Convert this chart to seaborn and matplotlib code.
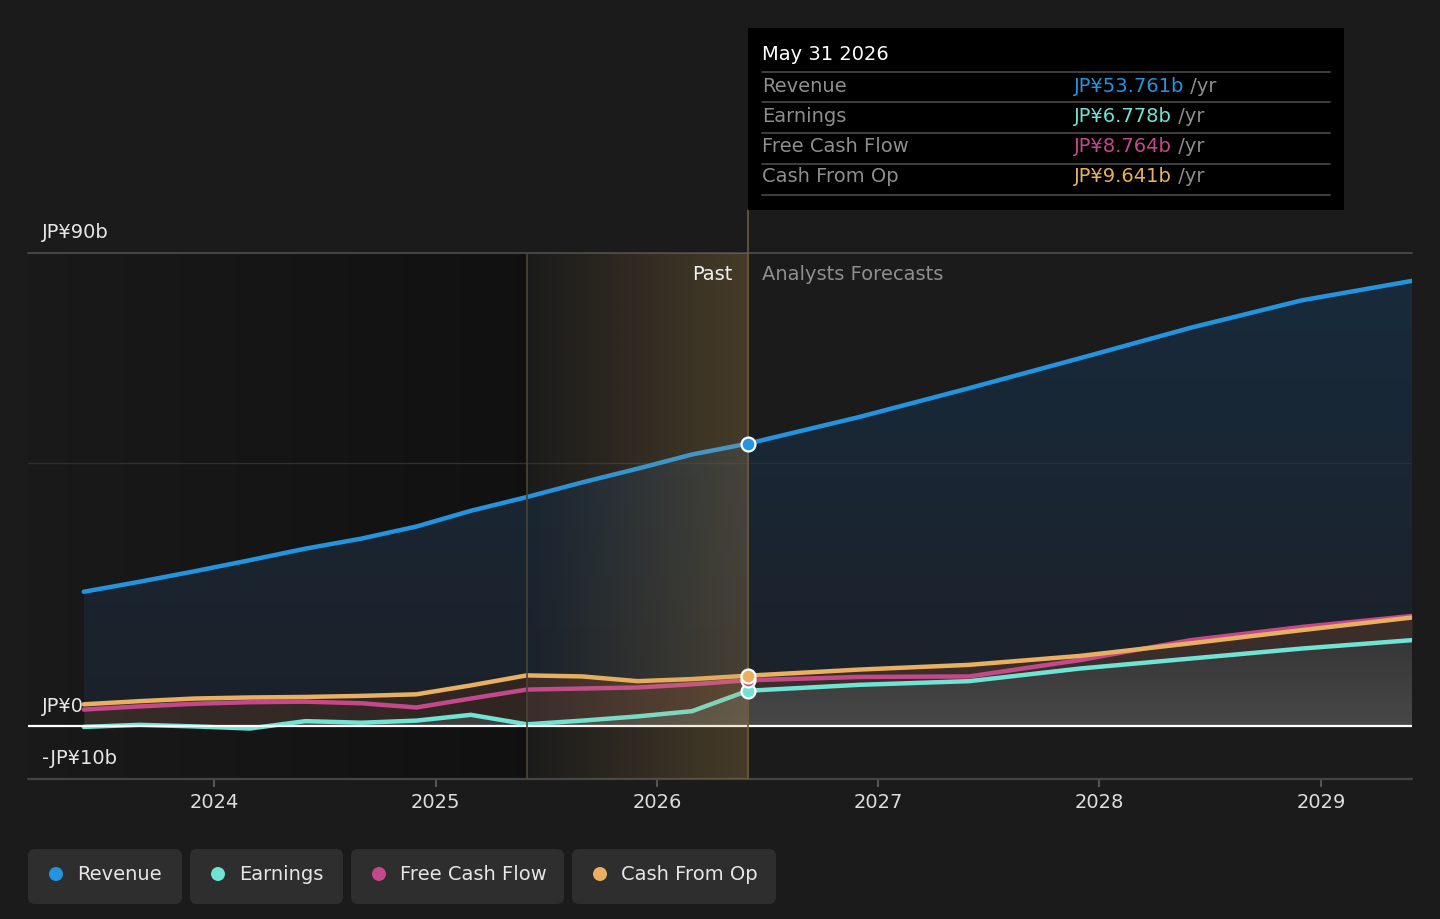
import numpy as np
import pandas as pd
import matplotlib
matplotlib.use("Agg")
import matplotlib.pyplot as plt
import matplotlib.dates as mdates
import matplotlib.colors as mcolors
from matplotlib.patches import FancyBboxPatch, Rectangle, Circle
from matplotlib.text import Annotation
from matplotlib.transforms import IdentityTransform
import seaborn as sns

# data (JP¥ billions), quarterly history then analyst forecasts
dates = ["2023-05-31", "2023-08-31", "2023-11-30", "2024-02-29", "2024-05-31",
         "2024-08-31", "2024-11-30", "2025-02-28", "2025-05-31", "2025-08-31",
         "2025-11-30", "2026-02-28", "2026-05-31", "2026-11-30", "2027-05-31",
         "2027-11-30", "2028-05-31", "2028-11-30", "2029-05-31"]
revenue = [25.6, 27.5, 29.5, 31.6, 33.8, 35.7, 38.0, 41.0, 43.6, 46.4,
           49.0, 51.7, 53.761, 58.8, 64.3, 70.0, 75.8, 81.0, 84.7]
earnings = [-0.1, 0.3, 0.0, -0.4, 1.0, 0.7, 1.1, 2.2, 0.4, 1.1,
            1.9, 2.9, 6.778, 7.9, 8.6, 11.0, 12.9, 14.8, 16.4]
free_cash_flow = [3.2, 3.8, 4.3, 4.6, 4.7, 4.4, 3.6, 5.3, 7.0, 7.2,
                  7.4, 8.0, 8.764, 9.4, 9.5, 12.6, 16.4, 18.9, 21.0]
cash_from_op = [4.2, 4.8, 5.3, 5.5, 5.6, 5.8, 6.1, 7.8, 9.7, 9.5,
                8.6, 9.0, 9.641, 10.8, 11.7, 13.4, 15.8, 18.3, 20.7]

series_names = ["Revenue", "Earnings", "Free Cash Flow", "Cash From Op"]
colors = {"Revenue": "#2394df", "Earnings": "#6fe3d4",
          "Free Cash Flow": "#c4498a", "Cash From Op": "#e8b060"}
tooltip_values = ["JP¥53.761b", "JP¥6.778b", "JP¥8.764b", "JP¥9.641b"]

past_start = pd.Timestamp("2025-05-31")
now = pd.Timestamp("2026-05-31")
x_left = pd.Timestamp("2023-02-28")
x_right = pd.Timestamp("2029-05-31")

BG = "#1b1b1b"
W, H = 1440, 919

sns.set_theme(style="dark")
plt.rcParams["font.family"] = ["DejaVu Sans"]

df = pd.DataFrame({"date": pd.to_datetime(dates), "Revenue": revenue, "Earnings": earnings,
                   "Free Cash Flow": free_cash_flow, "Cash From Op": cash_from_op})
long_df = df.melt(id_vars="date", var_name="series", value_name="value")

fig = plt.figure(figsize=(W / 100, H / 100), dpi=100, facecolor=BG)
ax = fig.add_axes([28 / W, 1 - 779 / H, 1384 / W, 526 / H])
ax.set_facecolor(BG)
for s in ax.spines.values():
    s.set_visible(False)

xnum = mdates.date2num(df["date"])
xl, xr = mdates.date2num(x_left), mdates.date2num(x_right)
xp, xn = mdates.date2num(past_start), mdates.date2num(now)


def gradient_band(lo, hi, c_top, c_bot, a_top, a_bot, zorder):
    poly = ax.fill_between(xnum, lo, hi, facecolor="none", edgecolor="none")
    grad = np.zeros((256, 1, 4))
    grad[:, 0, :3] = np.linspace(mcolors.to_rgb(c_top), mcolors.to_rgb(c_bot), 256)
    grad[:, 0, 3] = np.linspace(a_top, a_bot, 256)
    ymin = min(np.min(lo), 0)
    im = ax.imshow(grad, aspect="auto", origin="upper", zorder=zorder,
                   extent=[xnum.min(), xnum.max(), ymin, np.max(hi)], interpolation="bilinear")
    im.set_clip_path(poly.get_paths()[0], transform=ax.transData)


# dark "past" panel
panel = np.zeros((1, 256, 4))
panel[0, :, 3] = np.linspace(0.05, 0.38, 256)
ax.imshow(panel, aspect="auto", extent=[xl, xp, -10, 90], zorder=0.5, interpolation="bilinear")

# area fills
rev = np.array(revenue)
ear = np.array(earnings)
mid_top = np.maximum(np.array(free_cash_flow), np.array(cash_from_op))
gradient_band(mid_top, rev, "#182a3b", "#1b2129", 1.0, 1.0, 1)
ax.fill_between(xnum, ear, mid_top, color="#c08070", alpha=0.19, lw=0, zorder=1)
gradient_band(np.zeros_like(ear), ear, "#ffffff", "#ffffff", 0.12, 0.2, 1)

# grid lines
ax.axhline(90, color="#4a4a4a", lw=1.3, zorder=2, clip_on=False)
ax.axhline(50, color="#2f2f2f", lw=1.0, zorder=1.5)
ax.axhline(0, color="#ffffff", lw=1.6, zorder=3.5)
ax.axhline(-10, color="#444444", lw=1.6, zorder=2, clip_on=False)

# lines
sns.lineplot(data=long_df, x="date", y="value", hue="series", hue_order=series_names,
             palette=colors, linewidth=3.2, legend=False, ax=ax, zorder=3)

# highlight for last year of history, drawn over the lines
hl = np.zeros((1, 256, 4))
hl[0, :, :3] = (0.80, 0.62, 0.32)
hl[0, :, 3] = np.linspace(0.0, 0.25, 256)
ax.imshow(hl, aspect="auto", extent=[xp, xn, -10, 90], zorder=4, interpolation="bilinear")

ax.plot([xp, xp], [-10, 90], color="#4a4436", lw=1.2, zorder=4.2)
ax.plot([xn, xn], [-10, 98.2], color="#6a5a3a", lw=1.2, zorder=4.2, clip_on=False)

# markers at "now"
now_idx = dates.index("2026-05-31")
for name, vals in zip(series_names, [revenue, earnings, free_cash_flow, cash_from_op]):
    ax.plot([xn], [vals[now_idx]], "o", ms=10, color=colors[name], mec="white", mew=1.6,
            zorder=5, clip_on=False)

ax.set_xlim(xl, xr)
ax.set_ylim(-10, 90)
ax.set_yticks([])
ax.set_xlabel("")
ax.set_ylabel("")
ax.xaxis.set_major_locator(mdates.YearLocator())
ax.xaxis.set_major_formatter(mdates.DateFormatter("%Y"))
ax.tick_params(axis="x", colors="#555555", labelcolor="#dddddd", labelsize=14,
               length=6, width=1.5, pad=4, bottom=True, direction="out")
ax.grid(False)

ident = IdentityTransform()


def ftext(x, y, s, **kw):
    return fig.text(x / W, 1 - y / H, s, **kw)


# axis labels
ftext(42, 232, "JP¥90b", color="#e6e6e6", fontsize=14, va="center")
ftext(42, 706, "JP¥0", color="#e6e6e6", fontsize=14, va="center")
ftext(42, 758, "-JP¥10b", color="#e6e6e6", fontsize=14, va="center")
ftext(733, 274, "Past", color="#f0f0f0", fontsize=14, va="center", ha="right")
ftext(762, 274, "Analysts Forecasts", color="#8e8e8e", fontsize=14, va="center")

# tooltip
fig.patches.append(Rectangle((748, H - 210), 596, 182, transform=ident, facecolor="#000000",
                             edgecolor="none", zorder=10))
ftext(762, 55, "May 31 2026", color="#ffffff", fontsize=14, va="center", zorder=11)
for yy in [72, 102, 133, 164, 195]:
    fig.add_artist(plt.Line2D([762, 1330], [H - yy, H - yy], transform=ident,
                              color="#4a4a4a", lw=1.2, zorder=11))
for i, (name, val) in enumerate(zip(series_names, tooltip_values)):
    yy = [86, 116, 147, 177][i]
    ftext(762, yy, name, color="#8e8e8e", fontsize=14, va="center", zorder=11)
    t = ftext(1074, yy, val, color=colors[name], fontsize=14, va="center", zorder=11)
    unit = Annotation(" /yr", xy=(1, 0.5), xycoords=t, va="center", ha="left",
                      color="#8e8e8e", fontsize=14, zorder=11)
    fig.add_artist(unit)

# legend chips
chips = [(28, 182), (190, 343), (351, 564), (572, 776)]
for (x0, x1), name in zip(chips, series_names):
    fig.patches.append(FancyBboxPatch((x0, H - 904), x1 - x0, 55, transform=ident,
                                      boxstyle="round,pad=0,rounding_size=7",
                                      facecolor="#2e2e2e", edgecolor="none", zorder=10))
    fig.patches.append(Circle((x0 + 28, H - 874), 7, transform=ident, facecolor=colors[name],
                              edgecolor="none", zorder=11))
    ftext(x0 + 49, 874, name, color="#e6e6e6", fontsize=14, va="center", zorder=11)

fig.savefig("out.png", dpi=100, facecolor=BG)
